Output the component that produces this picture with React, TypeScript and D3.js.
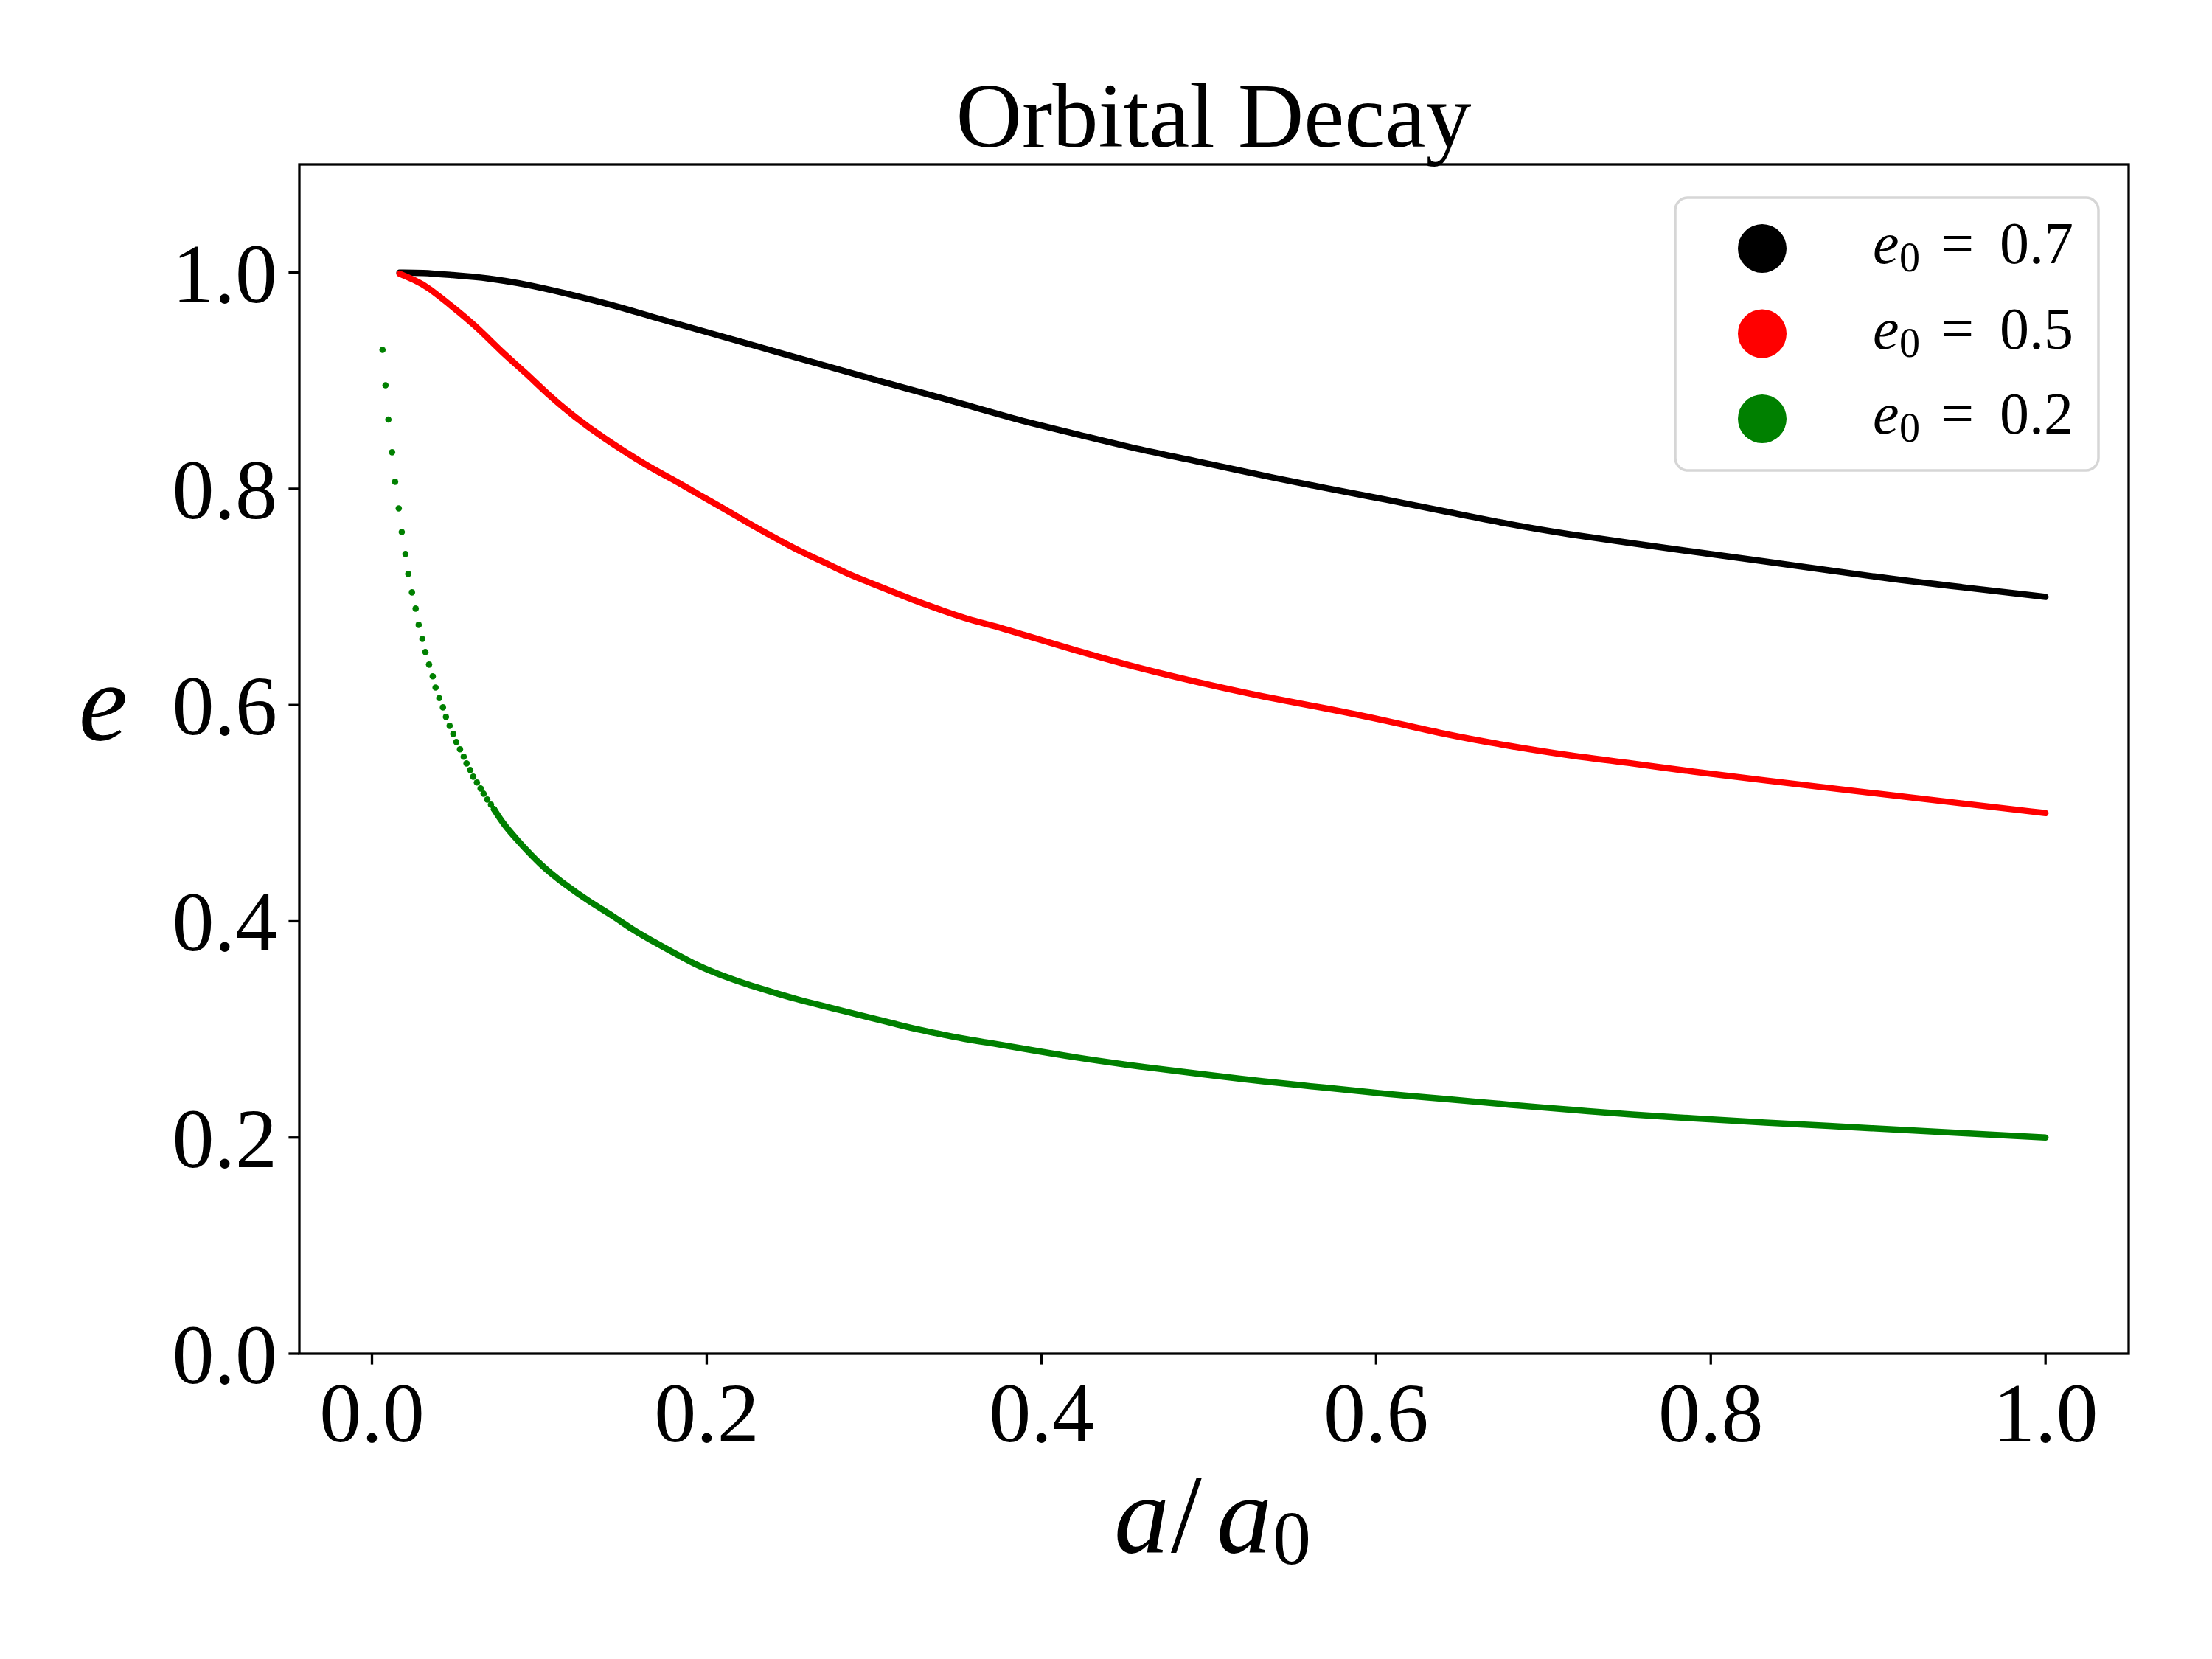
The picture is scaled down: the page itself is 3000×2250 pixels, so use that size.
import React from "react";
import * as d3 from "d3";

const W = 3000;
const H = 2250;
const box = { left: 406, right: 2887, top: 223, bottom: 1836 };

const xTicks = [0, 0.2, 0.4, 0.6, 0.8, 1.0];
const yTicks = [0, 0.2, 0.4, 0.6, 0.8, 1.0];

// e0 = 0.7 (black) as [a/a0, e]
const curveE07: [number, number][] = [
  [0.0164, 1.0], [0.03, 1.0], [0.0476, 0.9977], [0.0696, 0.995], [0.0917, 0.9894],
  [0.121, 0.979], [0.151, 0.967], [0.165, 0.96], [0.2, 0.945], [0.25, 0.923],
  [0.3, 0.901], [0.35, 0.88], [0.3856, 0.8637], [0.4224, 0.8501], [0.4591, 0.836],
  [0.4959, 0.8246], [0.5325, 0.8121], [0.5693, 0.8008], [0.606, 0.79], [0.6427, 0.7787],
  [0.6795, 0.7671], [0.7162, 0.7576], [0.753, 0.7496], [0.7896, 0.7417], [0.8264, 0.7342],
  [0.9, 0.718], [0.95, 0.709], [1.0, 0.7],
];

// e0 = 0.5 (red)
const curveE05: [number, number][] = [
  [0.0164, 0.999], [0.0256, 0.993], [0.033, 0.987], [0.0476, 0.969], [0.0626, 0.95],
  [0.0771, 0.927], [0.0917, 0.9076], [0.1066, 0.885], [0.121, 0.8667], [0.1357, 0.8497],
  [0.1653, 0.8201], [0.18, 0.8087], [0.1947, 0.7951], [0.2093, 0.7826], [0.224, 0.769],
  [0.2387, 0.7564], [0.2534, 0.7439], [0.2681, 0.7337], [0.2828, 0.7223], [0.2975, 0.7132],
  [0.3122, 0.7041], [0.3269, 0.695], [0.3416, 0.6871], [0.3563, 0.6792], [0.371, 0.6735],
  [0.3856, 0.6667], [0.4224, 0.6496], [0.4591, 0.6337], [0.4959, 0.6201], [0.5325, 0.6076],
  [0.5693, 0.5973], [0.606, 0.5857], [0.6427, 0.5723], [0.6795, 0.5621], [0.7162, 0.553],
  [0.753, 0.5462], [0.7896, 0.5382], [0.8264, 0.5314], [0.9, 0.518], [0.95, 0.509], [1.0, 0.5],
];

// e0 = 0.2 (green): separate dots near the start
const dotsE02: [number, number][] = [
  [0.0063, 0.9285], [0.0081, 0.8958], [0.0098, 0.864], [0.012, 0.8338], [0.0138, 0.8065],
  [0.016, 0.7819], [0.0178, 0.7601], [0.02, 0.7397], [0.0217, 0.7213], [0.0239, 0.7042],
  [0.0261, 0.6892], [0.0279, 0.6742], [0.0301, 0.6612], [0.0319, 0.649], [0.0341, 0.6374],
  [0.0363, 0.6265], [0.038, 0.6162], [0.0402, 0.6064], [0.0424, 0.5978], [0.0442, 0.589],
  [0.0464, 0.5808], [0.0486, 0.5733], [0.0504, 0.5658], [0.0526, 0.559], [0.0548, 0.5522],
  [0.0565, 0.546], [0.0587, 0.5399], [0.0605, 0.5337], [0.0627, 0.5283], [0.0649, 0.5228],
  [0.0667, 0.518], [0.0689, 0.5126], [0.0711, 0.5078], [0.0729, 0.5037],
];

// e0 = 0.2 (green): dense part
const curveE02: [number, number][] = [
  [0.0729, 0.5037], [0.0784, 0.4903], [0.0859, 0.4766], [0.1005, 0.4521], [0.1155, 0.4337],
  [0.13, 0.418], [0.1446, 0.4044], [0.1551, 0.3928], [0.1653, 0.3837], [0.18, 0.3712],
  [0.1947, 0.3587], [0.2093, 0.3496], [0.224, 0.3416], [0.2387, 0.3348], [0.2534, 0.328],
  [0.2681, 0.3223], [0.2828, 0.3166], [0.2975, 0.3109], [0.3122, 0.3053], [0.3269, 0.2996],
  [0.3416, 0.2951], [0.3563, 0.2905], [0.371, 0.2871], [0.3856, 0.2831], [0.4224, 0.2734],
  [0.4591, 0.2655], [0.4959, 0.2586], [0.5325, 0.2518], [0.5693, 0.2462], [0.606, 0.2402],
  [0.6427, 0.2355], [0.6795, 0.2303], [0.7162, 0.2257], [0.753, 0.2211], [0.7896, 0.2177],
  [0.8264, 0.2143], [0.9, 0.2083], [0.95, 0.204], [1.0, 0.2],
];

const legendValues = ["0.7", "0.5", "0.2"];
const legendColors = ["#000000", "#ff0000", "#008000"];

const FONT = "'Liberation Serif', 'DejaVu Serif', serif";

export default function App() {
  const x = d3.scaleLinear().domain([-0.0434, 1.0497]).range([box.left, box.right]);
  const y = d3.scaleLinear().domain([0, 1.1]).range([box.bottom, box.top]);
  // basis smoothing evens out small reading errors between the points
  const line = d3
    .line<[number, number]>()
    .x((d) => x(d[0]))
    .y((d) => y(d[1]))
    .curve(d3.curveBasis);

  const tickLen = 14.6;
  const lw = 3.3;
  const fmt = d3.format(".1f");

  return (
    <div>
      <style>{`body{margin:0}`}</style>
      <svg width={W} height={H} style={{ display: "block", background: "#fff" }} fontFamily={FONT}>
        <rect x={0} y={0} width={W} height={H} fill="#fff" />

        {/* data */}
        <path d={line(curveE07) || ""} fill="none" stroke="#000000" strokeWidth={8.5} strokeLinecap="round" strokeLinejoin="round" />
        <path d={line(curveE05) || ""} fill="none" stroke="#ff0000" strokeWidth={8.5} strokeLinecap="round" strokeLinejoin="round" />
        <path d={line(curveE02) || ""} fill="none" stroke="#008000" strokeWidth={8.5} strokeLinecap="round" strokeLinejoin="round" />
        {dotsE02.map((d, i) => (
          <circle key={i} cx={x(d[0])} cy={y(d[1])} r={4.3} fill="#008000" />
        ))}

        {/* frame */}
        <rect
          x={box.left}
          y={box.top}
          width={box.right - box.left}
          height={box.bottom - box.top}
          fill="none"
          stroke="#000"
          strokeWidth={lw}
        />

        {/* x axis */}
        {xTicks.map((t) => (
          <g key={"x" + t}>
            <line x1={x(t)} x2={x(t)} y1={box.bottom} y2={box.bottom + tickLen} stroke="#000" strokeWidth={lw} />
            <text x={x(t)} y={1955} fontSize={114} textAnchor="middle" fill="#000">
              {fmt(t)}
            </text>
          </g>
        ))}

        {/* y axis */}
        {yTicks.map((t) => (
          <g key={"y" + t}>
            <line x1={box.left - tickLen} x2={box.left} y1={y(t)} y2={y(t)} stroke="#000" strokeWidth={lw} />
            <text x={376} y={y(t) + 40} fontSize={114} textAnchor="end" fill="#000">
              {fmt(t)}
            </text>
          </g>
        ))}

        {/* title */}
        <text x={1646} y={199} fontSize={124} textAnchor="middle" fill="#000">
          Orbital Decay
        </text>

        {/* x label: a/a0 */}
        <text y={2105} fontSize={150} fill="#000">
          <tspan x={1511} fontStyle="italic">a</tspan>
          <tspan x={1588}>/</tspan>
          <tspan x={1650} fontStyle="italic">a</tspan>
          <tspan x={1726} dy={16} fontSize={104}>0</tspan>
        </text>

        {/* y label: e */}
        <text x={140} y={1004} fontSize={150} fontStyle="italic" textAnchor="middle" fill="#000">
          e
        </text>

        {/* legend */}
        <rect x={2272} y={268} width={574} height={370} rx={17} ry={17} fill="#fff" fillOpacity={0.8} stroke="#d6d6d6" strokeWidth={3.5} />
        {legendValues.map((v, i) => {
          const cy = 337 + i * 115.5;
          const base = cy + 20;
          return (
            <g key={v}>
              <circle cx={2390} cy={cy} r={33} fill={legendColors[i]} />
              <text y={base} fontSize={80} fill="#000">
                <tspan x={2540} fontStyle="italic">e</tspan>
                <tspan x={2576} dy={11} fontSize={56}>0</tspan>
                <tspan x={2632} dy={-11}>=</tspan>
                <tspan x={2712}>{v}</tspan>
              </text>
            </g>
          );
        })}
      </svg>
    </div>
  );
}
